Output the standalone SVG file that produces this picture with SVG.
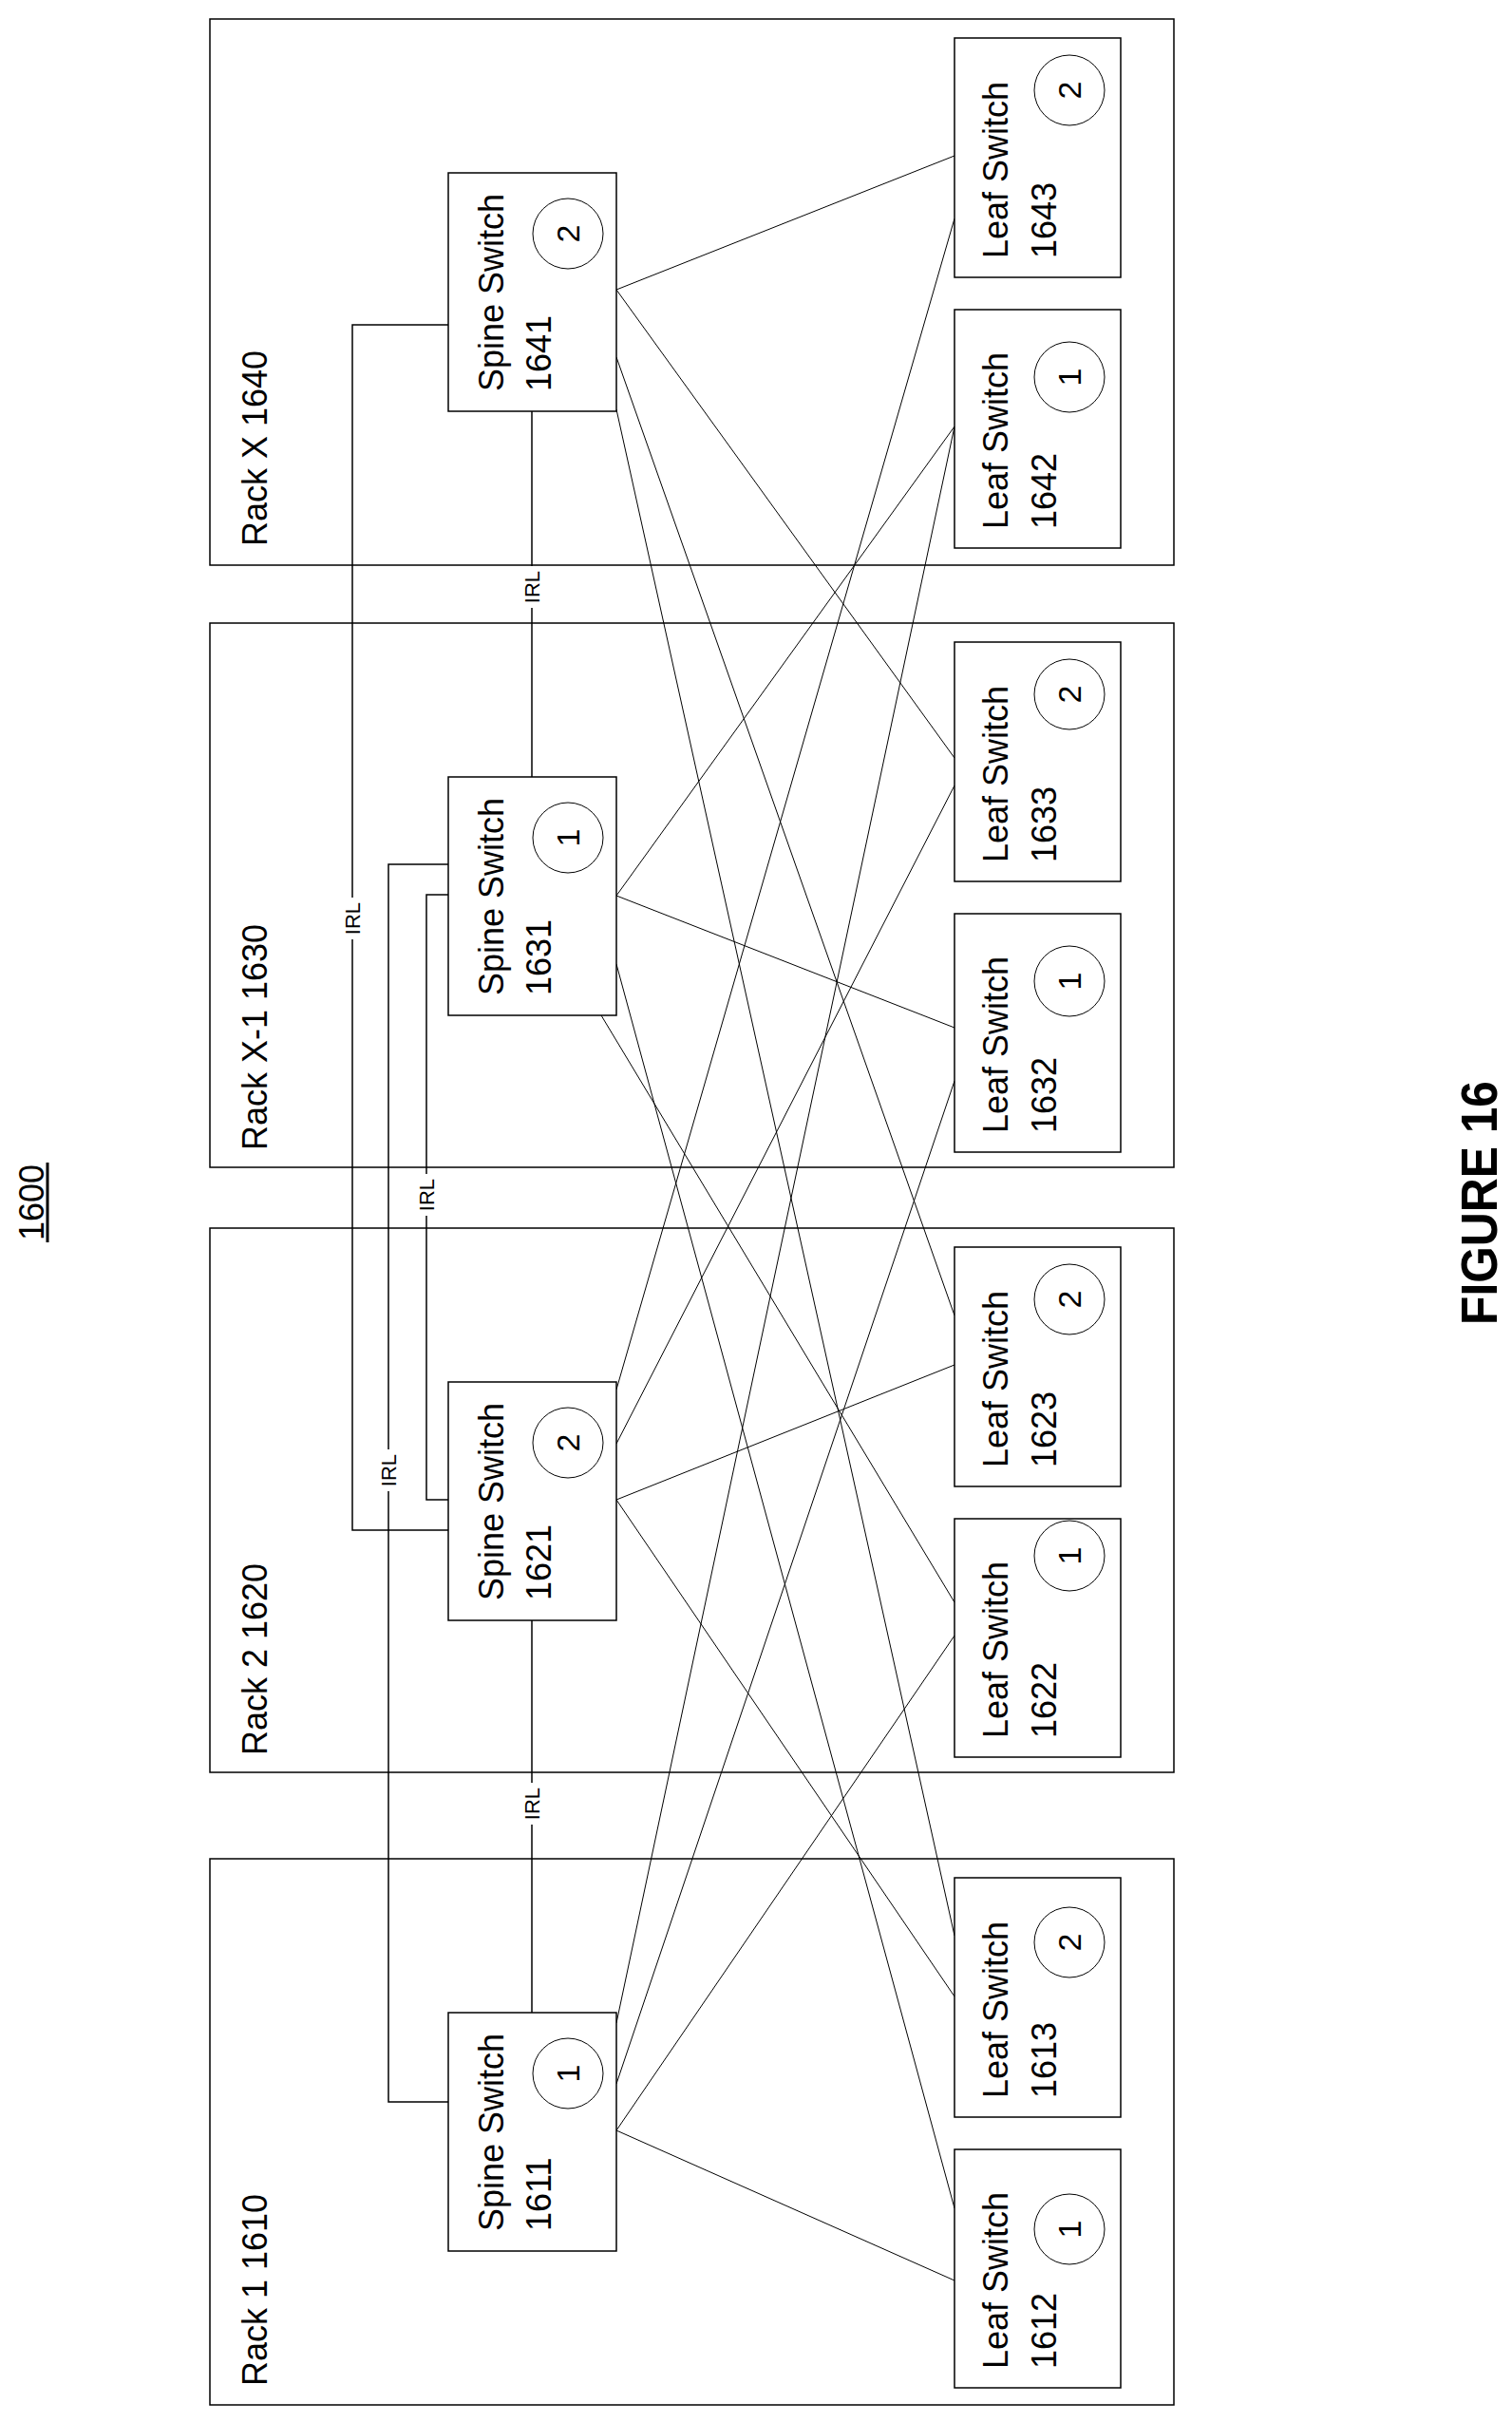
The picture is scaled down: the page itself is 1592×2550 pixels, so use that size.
<svg xmlns="http://www.w3.org/2000/svg" width="1592" height="2550" viewBox="0 0 1592 2550">
<style>
.b{fill:#fff;stroke:#000;stroke-width:1.5}
.c{fill:none;stroke:#000;stroke-width:1}
.l{fill:none;stroke:#000;stroke-width:1}
.irl{fill:none;stroke:#000;stroke-width:1.5}
text{font-family:"Liberation Sans",Arial,sans-serif;fill:#000}
.t{font-size:36px}
.n{font-size:34px;text-anchor:middle;dominant-baseline:central}
.s{font-size:22px;text-anchor:middle;dominant-baseline:central}
</style>
<rect width="1592" height="2550" fill="#fff"/>
<g id="rackX"><rect class="b" x="221" y="20" width="1015" height="575"/><text class="t" transform="translate(281,575) rotate(-90)">Rack X 1640</text></g>
<g id="rackX1"><rect class="b" x="221" y="656" width="1015" height="573"/><text class="t" transform="translate(281,1211) rotate(-90)">Rack X-1 1630</text></g>
<g id="rack2"><rect class="b" x="221" y="1293" width="1015" height="573"/><text class="t" transform="translate(281,1848) rotate(-90)">Rack 2 1620</text></g>
<g id="rack1"><rect class="b" x="221" y="1957" width="1015" height="575"/><text class="t" transform="translate(281,2512) rotate(-90)">Rack 1 1610</text></g>
<g id="connectors">
<line class="l" x1="649" y1="305" x2="1005" y2="164"/>
<line class="l" x1="649" y1="305" x2="1005" y2="798"/>
<line class="l" x1="649" y1="376" x2="1005" y2="1385"/>
<line class="l" x1="649" y1="431" x2="1005" y2="2038"/>
<line class="l" x1="649" y1="943" x2="1005" y2="449"/>
<line class="l" x1="649" y1="943" x2="1005" y2="1082"/>
<line class="l" x1="649" y1="1015" x2="1005" y2="2325"/>
<line class="l" x1="633" y1="1069" x2="1005" y2="1687"/>
<line class="l" x1="649" y1="1463" x2="1005" y2="230"/>
<line class="l" x1="649" y1="1520" x2="1005" y2="827"/>
<line class="l" x1="649" y1="1579" x2="1005" y2="1437"/>
<line class="l" x1="649" y1="1579" x2="1005" y2="2102"/>
<line class="l" x1="649" y1="2130" x2="1005" y2="449"/>
<line class="l" x1="649" y1="2194" x2="1005" y2="1138"/>
<line class="l" x1="649" y1="2243" x2="1005" y2="1722"/>
<line class="l" x1="649" y1="2243" x2="1005" y2="2401"/>
<polyline class="irl" points="472,342 371,342 371,1611 472,1611"/>
<polyline class="irl" points="472,910 409,910 409,2213 472,2213"/>
<polyline class="irl" points="472,942 449,942 449,1579 472,1579"/>
<line class="irl" x1="560" y1="433" x2="560" y2="818"/>
<line class="irl" x1="560" y1="1706" x2="560" y2="2119"/>
<rect x="359" y="945" width="24" height="44" fill="#fff"/><text class="s" transform="translate(371,967) rotate(-90)">IRL</text>
<rect x="397" y="1526" width="24" height="44" fill="#fff"/><text class="s" transform="translate(409,1548) rotate(-90)">IRL</text>
<rect x="437" y="1236" width="24" height="44" fill="#fff"/><text class="s" transform="translate(449,1258) rotate(-90)">IRL</text>
<rect x="548" y="596" width="24" height="44" fill="#fff"/><text class="s" transform="translate(560,618) rotate(-90)">IRL</text>
<rect x="548" y="1877" width="24" height="44" fill="#fff"/><text class="s" transform="translate(560,1899) rotate(-90)">IRL</text>
</g>
<g id="spine1641"><rect class="b" x="472" y="182" width="177" height="251"/><text class="t" transform="translate(530,412) rotate(-90)">Spine Switch</text><text class="t" transform="translate(580,412) rotate(-90)">1641</text><circle class="c" cx="598" cy="246" r="37"/><text class="n" transform="translate(598,246) rotate(-90)">2</text></g>
<g id="spine1631"><rect class="b" x="472" y="818" width="177" height="251"/><text class="t" transform="translate(530,1048) rotate(-90)">Spine Switch</text><text class="t" transform="translate(580,1048) rotate(-90)">1631</text><circle class="c" cx="598" cy="882" r="37"/><text class="n" transform="translate(598,882) rotate(-90)">1</text></g>
<g id="spine1621"><rect class="b" x="472" y="1455" width="177" height="251"/><text class="t" transform="translate(530,1685) rotate(-90)">Spine Switch</text><text class="t" transform="translate(580,1685) rotate(-90)">1621</text><circle class="c" cx="598" cy="1519" r="37"/><text class="n" transform="translate(598,1519) rotate(-90)">2</text></g>
<g id="spine1611"><rect class="b" x="472" y="2119" width="177" height="251"/><text class="t" transform="translate(530,2349) rotate(-90)">Spine Switch</text><text class="t" transform="translate(580,2349) rotate(-90)">1611</text><circle class="c" cx="598" cy="2183" r="37"/><text class="n" transform="translate(598,2183) rotate(-90)">1</text></g>
<g id="leaf1643"><rect class="b" x="1005" y="40" width="175" height="252"/><text class="t" transform="translate(1061,272) rotate(-90)">Leaf Switch</text><text class="t" transform="translate(1112,272) rotate(-90)">1643</text><circle class="c" cx="1126" cy="95" r="37"/><text class="n" transform="translate(1126,95) rotate(-90)">2</text></g>
<g id="leaf1642"><rect class="b" x="1005" y="326" width="175" height="251"/><text class="t" transform="translate(1061,557) rotate(-90)">Leaf Switch</text><text class="t" transform="translate(1112,557) rotate(-90)">1642</text><circle class="c" cx="1126" cy="397" r="37"/><text class="n" transform="translate(1126,397) rotate(-90)">1</text></g>
<g id="leaf1633"><rect class="b" x="1005" y="676" width="175" height="252"/><text class="t" transform="translate(1061,908) rotate(-90)">Leaf Switch</text><text class="t" transform="translate(1112,908) rotate(-90)">1633</text><circle class="c" cx="1126" cy="731" r="37"/><text class="n" transform="translate(1126,731) rotate(-90)">2</text></g>
<g id="leaf1632"><rect class="b" x="1005" y="962" width="175" height="251"/><text class="t" transform="translate(1061,1193) rotate(-90)">Leaf Switch</text><text class="t" transform="translate(1112,1193) rotate(-90)">1632</text><circle class="c" cx="1126" cy="1033" r="37"/><text class="n" transform="translate(1126,1033) rotate(-90)">1</text></g>
<g id="leaf1623"><rect class="b" x="1005" y="1313" width="175" height="252"/><text class="t" transform="translate(1061,1545) rotate(-90)">Leaf Switch</text><text class="t" transform="translate(1112,1545) rotate(-90)">1623</text><circle class="c" cx="1126" cy="1368" r="37"/><text class="n" transform="translate(1126,1368) rotate(-90)">2</text></g>
<g id="leaf1622"><rect class="b" x="1005" y="1599" width="175" height="251"/><text class="t" transform="translate(1061,1830) rotate(-90)">Leaf Switch</text><text class="t" transform="translate(1112,1830) rotate(-90)">1622</text><circle class="c" cx="1126" cy="1638" r="37"/><text class="n" transform="translate(1126,1638) rotate(-90)">1</text></g>
<g id="leaf1613"><rect class="b" x="1005" y="1977" width="175" height="252"/><text class="t" transform="translate(1061,2209) rotate(-90)">Leaf Switch</text><text class="t" transform="translate(1112,2209) rotate(-90)">1613</text><circle class="c" cx="1126" cy="2045" r="37"/><text class="n" transform="translate(1126,2045) rotate(-90)">2</text></g>
<g id="leaf1612"><rect class="b" x="1005" y="2263" width="175" height="251"/><text class="t" transform="translate(1061,2494) rotate(-90)">Leaf Switch</text><text class="t" transform="translate(1112,2494) rotate(-90)">1612</text><circle class="c" cx="1126" cy="2347" r="37"/><text class="n" transform="translate(1126,2347) rotate(-90)">1</text></g>
<g id="labels">
<text transform="translate(46,1306) rotate(-90)" style="font-size:36px">1600</text>
<line x1="50" y1="1224" x2="50" y2="1308" stroke="#000" stroke-width="3"/>
<text transform="translate(1576,1395) rotate(-90)" style="font-size:54px;font-weight:bold" textLength="257" lengthAdjust="spacingAndGlyphs">FIGURE 16</text>
</g>
</svg>
